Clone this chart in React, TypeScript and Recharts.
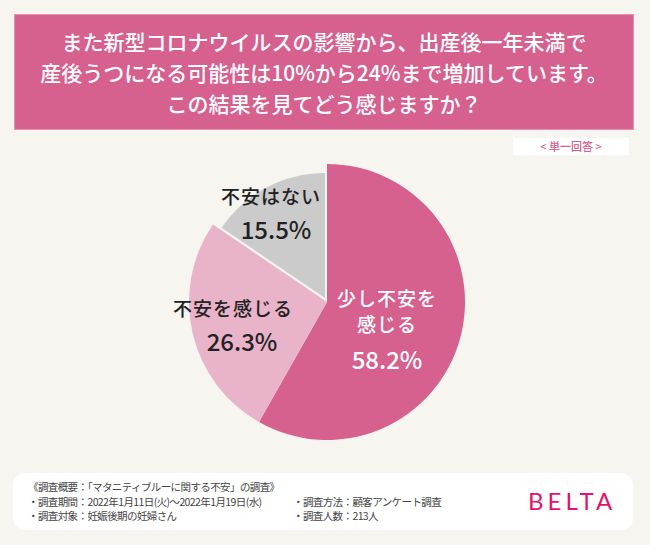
import React from 'react';
import { PieChart, Pie, Cell } from 'recharts';

// survey answers, top slice first, clockwise
const categories = ['少し不安を感じる', '不安を感じる', '不安はない'];
const categoryLines = [['少し不安を', '感じる'], ['不安を感じる'], ['不安はない']];
const shares = [58.2, 26.3, 15.5];

const headerLines = [
  'また新型コロナウイルスの影響から、出産後一年未満で',
  '産後うつになる可能性は10%から24%まで増加しています。',
  'この結果を見てどう感じますか？',
];

const footerTitle = '《調査概要：「マタニティブルーに関する不安」の調査》';
const footerLeft = ['・調査期間：2022年1月11日(火)〜2022年1月19日(水)', '・調査対象：妊娠後期の妊婦さん'];
const footerRight = ['・調査方法：顧客アンケート調査', '・調査人数：213人'];

const BG = '#f7f5f0';
const PINK = '#d6608e';
const LIGHT_PINK = '#e9b3c9';
const GRAY = '#cbcbcb';
const FONT = '"Noto Sans CJK JP", "Noto Sans", sans-serif';

const data = categories.map((name, i) => ({ name, value: shares[i] }));

// label placement relative to pie centre: [dx, dy] per text line, last one is the percentage
const labelOffsets: number[][][] = [
  [[60, -5], [60, 21], [60, 56]],
  [[-94, 5], [-85, 38]],
  [[-56, -107], [-51, -74]],
];

const renderLabel = (props: any) => {
  const { cx, cy, index, value } = props;
  const lines = categoryLines[index];
  const offs = labelOffsets[index];
  const color = index === 0 ? '#ffffff' : '#222222';
  return (
    <g key={`lbl-${index}`}>
      {lines.map((t, j) => (
        <text
          key={j}
          x={cx + offs[j][0]}
          y={cy + offs[j][1]}
          textAnchor="middle"
          dominantBaseline="central"
          fill={color}
          fontSize={19}
          fontWeight={500}
          fontFamily={FONT}
          letterSpacing={1}
        >
          {t}
        </text>
      ))}
      <text
        x={cx + offs[lines.length][0]}
        y={cy + offs[lines.length][1]}
        textAnchor="middle"
        dominantBaseline="central"
        fill={color}
        fontSize={24}
        fontWeight={500}
        fontFamily={FONT}
      >
        {`${value.toFixed(1)}%`}
      </text>
    </g>
  );
};

const App: React.FC = () => {
  return (
    <div style={{ position: 'absolute', left: 0, top: 0, width: 650, height: 545, background: BG, fontFamily: FONT, overflow: 'hidden' }}>
      <div
        style={{
          position: 'absolute', left: 14, top: 14, width: 620, height: 116, boxSizing: 'border-box',
          background: PINK, border: '1px solid #e690b2', color: '#fff', textAlign: 'center',
          fontSize: 21, lineHeight: '31px', paddingTop: 11, fontWeight: 500,
        }}
      >
        {headerLines.map((l, i) => (
          <div key={i}>{l}</div>
        ))}
      </div>

      <div
        style={{
          position: 'absolute', left: 513, top: 138, width: 116, height: 17, background: '#fff',
          color: PINK, fontSize: 11, fontWeight: 500, lineHeight: '17px', textAlign: 'center',
        }}
      >
        {'< 単一回答 >'}
      </div>

      <div style={{ position: 'absolute', left: 0, top: 0 }}>
        <PieChart width={650} height={545} margin={{ top: 0, right: 0, bottom: 0, left: 0 }}>
          <Pie
            data={data}
            dataKey="value"
            cx={327}
            cy={302}
            outerRadius={138}
            startAngle={90}
            endAngle={-270}
            stroke="none"
            isAnimationActive={false}
            labelLine={false}
            label={renderLabel}
          >
            {data.map((d, i) => (
              <Cell key={d.name} fill={i === 0 ? PINK : i === 1 ? LIGHT_PINK : 'transparent'} stroke="none" />
            ))}
          </Pie>
          {/* the "no worry" slice sits a little apart and smaller */}
          <Pie
            data={data}
            dataKey="value"
            cx={325}
            cy={298}
            outerRadius={125}
            startAngle={90}
            endAngle={-270}
            isAnimationActive={false}
          >
            {data.map((d, i) => (
              <Cell key={d.name} fill={i === 2 ? GRAY : 'transparent'} stroke="none" />
            ))}
          </Pie>
        </PieChart>
      </div>

      <div
        style={{
          position: 'absolute', left: 13, top: 473, width: 620, height: 57, background: '#fff',
          borderRadius: 12, color: '#444', fontSize: 10.5, lineHeight: '14.5px', letterSpacing: -0.6,
        }}
      >
        <div style={{ position: 'absolute', left: 15, top: 7 }}>
          <div>{footerTitle}</div>
          {footerLeft.map((l, i) => (
            <div key={i}>{l}</div>
          ))}
        </div>
        <div style={{ position: 'absolute', left: 280, top: 21.5 }}>
          {footerRight.map((l, i) => (
            <div key={i}>{l}</div>
          ))}
        </div>
        <div
          style={{
            position: 'absolute', left: 515, top: 13, fontFamily: 'Lato, sans-serif', fontWeight: 400,
            fontSize: 24, letterSpacing: 4, color: '#e4126b', lineHeight: '30px',
          }}
        >
          BELTA
        </div>
      </div>
    </div>
  );
};

export default App;
